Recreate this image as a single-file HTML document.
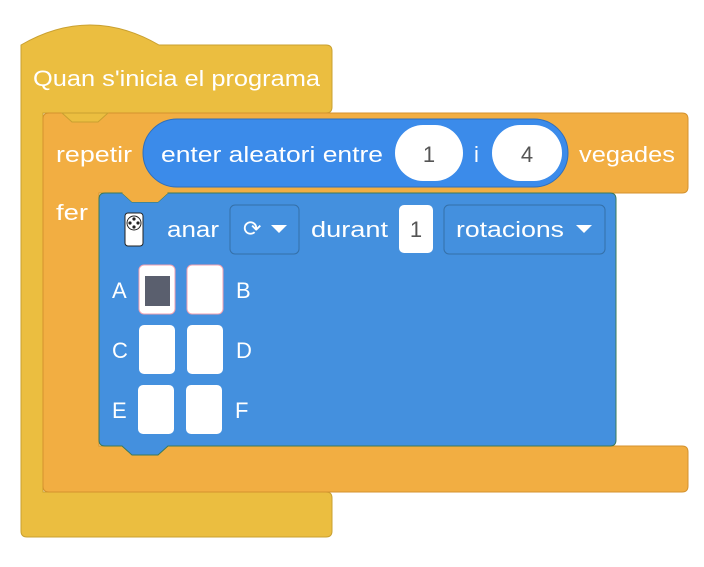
<!DOCTYPE html>
<html><head><style>
body{margin:0;background:#fff;}
svg text{font-family:"Liberation Sans",sans-serif;fill:#fff;font-size:22px;}
</style></head><body>
<svg width="704" height="562" viewBox="0 0 704 562">
<!-- hat block -->
<path d="M21 45 Q90 5 159 45 L326 45 Q332 45 332 51 L332 107 Q332 113 326 113 L43 113 L43 492 L326 492 Q332 492 332 498 L332 531 Q332 537 326 537 L27 537 Q21 537 21 531 Z" fill="#EBBE40" stroke="#C9A030" stroke-width="1"/>
<text x="33" y="86" textLength="287" lengthAdjust="spacingAndGlyphs">Quan s'inicia el programa</text>
<!-- repeat block -->
<path d="M49 113 L682 113 Q688 113 688 119 L688 187 Q688 193 682 193 L168 193 L158 202 L132 202 L122 193 L99 193 L99 446 L682 446 Q688 446 688 452 L688 486 Q688 492 682 492 L49 492 Q43 492 43 486 L43 119 Q43 113 49 113 Z" fill="#F2AE42" stroke="#D4922E" stroke-width="1"/>
<path d="M62 113 L72 122 L98 122 L108 113 Z" fill="#EBBE40" stroke="#C9A030" stroke-width="1"/>
<text x="56" y="162" textLength="76" lengthAdjust="spacingAndGlyphs">repetir</text>
<text x="56" y="220" textLength="32" lengthAdjust="spacingAndGlyphs">fer</text>
<!-- reporter -->
<rect x="143" y="119" width="425" height="68" rx="34" fill="#3B8BEA" stroke="#2F6FBC"/>
<text x="161" y="162" textLength="222" lengthAdjust="spacingAndGlyphs">enter aleatori entre</text>
<rect x="395" y="125" width="68" height="56" rx="28" fill="#fff"/>
<text x="429" y="162" text-anchor="middle" style="fill:#555">1</text>
<text x="474" y="162">i</text>
<rect x="492" y="125" width="70" height="56" rx="28" fill="#fff"/>
<text x="527" y="162" text-anchor="middle" style="fill:#555">4</text>
<text x="579" y="162" textLength="96" lengthAdjust="spacingAndGlyphs">vegades</text>
<!-- blue block -->
<path d="M105 193 L122 193 L132 202 L158 202 L168 193 L610 193 Q616 193 616 199 L616 440 Q616 446 610 446 L168 446 L158 455 L132 455 L122 446 L105 446 Q99 446 99 440 L99 199 Q99 193 105 193 Z" fill="#4490DE" stroke="#3A7A5A" stroke-width="1"/>
<path d="M122 193 L132 202 L158 202 L168 193 Z" fill="#F2AE42"/>
<!-- icon -->
<rect x="125" y="213" width="18" height="33" rx="3" fill="#fff" stroke="#222"/>
<circle cx="134" cy="223" r="7" fill="#fff" stroke="#222"/>
<circle cx="134" cy="219" r="1.6" fill="#222"/><circle cx="134" cy="227" r="1.6" fill="#222"/><circle cx="130" cy="223" r="1.6" fill="#222"/><circle cx="138" cy="223" r="1.6" fill="#222"/>
<text x="167" y="237" textLength="52" lengthAdjust="spacingAndGlyphs">anar</text>
<rect x="230" y="205" width="69" height="49" rx="5" fill="#4490DE" stroke="#3570A8"/>
<text x="243" y="236" font-size="14">⟳</text>
<path d="M271 225 L287 225 L279 233 Z" fill="#fff"/>
<text x="311" y="237" textLength="77" lengthAdjust="spacingAndGlyphs">durant</text>
<rect x="399" y="205" width="34" height="48" rx="5" fill="#fff"/>
<text x="416" y="237" text-anchor="middle" style="fill:#555">1</text>
<rect x="444" y="205" width="161" height="49" rx="5" fill="#4490DE" stroke="#3570A8"/>
<text x="456" y="237" textLength="108" lengthAdjust="spacingAndGlyphs">rotacions</text>
<path d="M576 225 L592 225 L584 233 Z" fill="#fff"/>
<!-- grid -->
<text x="112" y="298">A</text>
<rect x="139" y="265" width="36" height="49" rx="5" fill="#fff" stroke="#f0a0b0"/>
<rect x="145" y="276" width="25" height="30" fill="#5A5F6E"/>
<rect x="187" y="265" width="36" height="49" rx="5" fill="#fff" stroke="#f0a0b0"/>
<text x="236" y="298">B</text>
<text x="112" y="358">C</text>
<rect x="139" y="325" width="36" height="49" rx="5" fill="#fff"/>
<rect x="187" y="325" width="36" height="49" rx="5" fill="#fff"/>
<text x="236" y="358">D</text>
<text x="112" y="418">E</text>
<rect x="138" y="385" width="36" height="49" rx="5" fill="#fff"/>
<rect x="186" y="385" width="36" height="49" rx="5" fill="#fff"/>
<text x="235" y="418">F</text>
</svg>
</body></html>
